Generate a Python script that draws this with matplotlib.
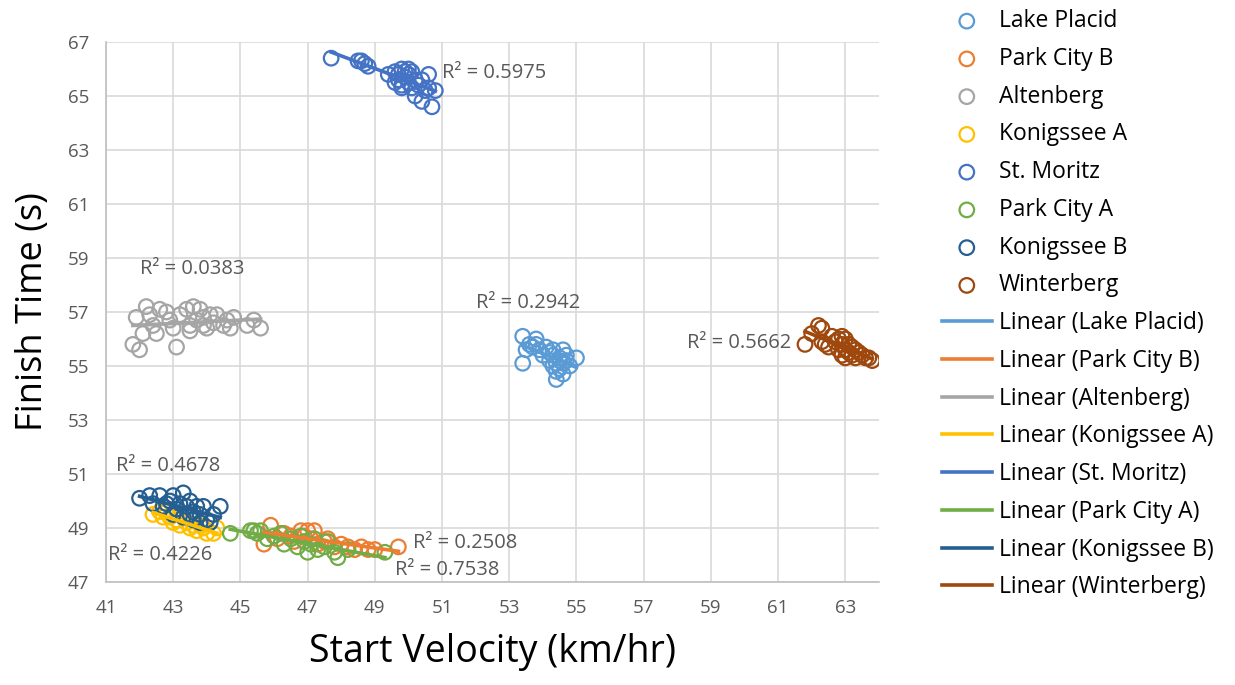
import numpy as np
import matplotlib
matplotlib.use("Agg")
import matplotlib.pyplot as plt

plt.rcParams['font.family'] = ['Open Sans', 'DejaVu Sans']

tracks = ['Lake Placid', 'Park City B', 'Altenberg', 'Konigssee A',
          'St. Moritz', 'Park City A', 'Konigssee B', 'Winterberg']
colors = ['#5B9BD5', '#ED7D31', '#A5A5A5', '#FFC000',
          '#4472C4', '#70AD47', '#255E91', '#9E480E']

# start velocity (km/hr) and finish time (s) per track
lake_placid_v = [53.4, 53.4, 53.5, 53.6, 53.7, 53.8, 53.8, 53.9, 54.0, 54.1, 54.2, 54.2, 54.3, 54.3,
                 54.4, 54.4, 54.5, 54.5, 54.6, 54.6, 54.6, 54.7, 54.7, 54.8, 55.0, 54.3, 54.5, 54.4]
lake_placid_t = [56.1, 55.1, 55.6, 55.8, 55.7, 56.0, 55.8, 55.6, 55.4, 55.7, 55.5, 55.2, 55.0, 55.4,
                 54.8, 54.5, 55.3, 54.9, 55.6, 55.1, 54.7, 55.4, 55.2, 55.0, 55.3, 55.6, 55.2, 55.1]

park_b_v = [45.7, 45.9, 46.1, 46.3, 46.6, 46.8, 46.9, 47.0, 47.1, 47.2, 47.3, 47.5, 47.8, 48.0,
            48.2, 48.4, 48.6, 48.8, 49.0, 49.7, 46.5, 47.6]
park_b_t = [48.4, 49.1, 48.6, 48.8, 48.5, 48.9, 48.7, 48.9, 48.6, 48.9, 48.4, 48.5, 48.3, 48.4,
            48.3, 48.2, 48.3, 48.2, 48.2, 48.3, 48.7, 48.6]

altenberg_v = [41.8, 42.0, 41.9, 42.1, 42.2, 42.3, 42.4, 42.5, 42.6, 42.8, 42.9, 43.0, 43.1, 43.2,
               43.4, 43.5, 43.6, 43.7, 43.8, 43.9, 44.0, 44.1, 44.2, 44.3, 44.5, 44.6, 44.7, 44.8,
               45.2, 45.4, 45.6, 43.5, 43.9]
altenberg_t = [55.8, 55.6, 56.8, 56.2, 57.2, 56.9, 56.5, 56.2, 57.1, 57.0, 56.7, 56.4, 55.7, 56.9,
               57.1, 56.5, 57.2, 56.7, 57.1, 56.8, 56.4, 56.9, 56.6, 56.9, 56.5, 56.7, 56.4, 56.8,
               56.5, 56.7, 56.4, 56.3, 56.5]

konig_a_v = [42.4, 42.6, 42.7, 42.9, 43.0, 43.1, 43.2, 43.4, 43.5, 43.6, 43.7, 43.8, 43.9, 44.0,
             44.2, 44.3, 43.3, 42.8]
konig_a_t = [49.5, 49.6, 49.4, 49.4, 49.2, 49.3, 49.1, 49.2, 49.0, 49.1, 48.9, 49.1, 49.0, 48.8,
             48.8, 49.0, 49.4, 49.6]

moritz_v = [47.7, 48.5, 48.7, 48.8, 48.6, 49.4, 49.6, 49.7, 49.8, 49.8, 49.9, 50.0, 50.0, 50.1,
            50.2, 50.2, 50.3, 50.4, 50.5, 50.6, 50.6, 50.7, 50.8, 49.7, 49.9, 50.0, 50.1, 49.6,
            50.4, 49.8]
moritz_t = [66.4, 66.3, 66.2, 66.1, 66.3, 65.8, 65.9, 65.6, 66.0, 65.4, 65.7, 65.8, 65.5, 65.3,
            65.6, 65.0, 65.4, 64.8, 65.2, 65.8, 65.3, 64.6, 65.2, 65.8, 65.9, 66.0, 65.9, 65.5,
            65.6, 65.3]

park_a_v = [44.7, 45.3, 45.5, 45.6, 45.8, 46.0, 46.2, 46.3, 46.5, 46.7, 46.8, 47.0, 47.1, 47.3,
            47.5, 47.6, 47.8, 47.9, 48.2, 49.3, 46.9, 45.4, 47.2]
park_a_t = [48.8, 48.9, 48.8, 48.9, 48.6, 48.7, 48.8, 48.4, 48.6, 48.3, 48.7, 48.1, 48.4, 48.2,
            48.3, 48.5, 48.1, 47.9, 48.2, 48.1, 48.5, 48.9, 48.6]

konig_b_v = [42.0, 42.3, 42.4, 42.6, 42.7, 42.9, 43.0, 43.1, 43.2, 43.3, 43.4, 43.5, 43.6, 43.6,
             43.7, 43.8, 43.9, 44.0, 44.1, 44.2, 44.4, 43.0, 43.3, 43.8, 42.8, 43.5]
konig_b_t = [50.1, 50.2, 49.9, 50.2, 49.8, 50.0, 50.2, 49.7, 49.9, 50.3, 49.8, 50.0, 49.6, 49.3,
             49.8, 49.5, 49.8, 49.3, 49.2, 49.5, 49.8, 49.5, 49.4, 49.2, 49.9, 49.5]

winter_v = [61.8, 62.0, 62.2, 62.3, 62.3, 62.5, 62.6, 62.7, 62.8, 62.8, 62.9, 62.9, 63.0, 63.0,
            63.1, 63.1, 63.2, 63.2, 63.3, 63.3, 63.4, 63.5, 63.6, 63.7, 63.8, 62.4, 63.0, 62.9]
winter_t = [55.8, 56.2, 56.5, 56.4, 55.9, 55.7, 56.1, 55.9, 55.6, 56.0, 55.4, 55.8, 55.6, 56.0,
            55.5, 55.8, 55.4, 55.7, 55.3, 55.6, 55.5, 55.4, 55.3, 55.3, 55.2, 55.8, 55.3, 56.1]

velocities = [lake_placid_v, park_b_v, altenberg_v, konig_a_v, moritz_v, park_a_v, konig_b_v, winter_v]
times = [lake_placid_t, park_b_t, altenberg_t, konig_a_t, moritz_t, park_a_t, konig_b_t, winter_t]

# R² labels as printed on the chart, with their anchor (x, y, ha)
r2_text = ['0.2942', '0.2508', '0.0383', '0.4226', '0.5975', '0.7538', '0.4678', '0.5662']
r2_pos = [(52.0, 57.35, 'left'), (50.15, 48.45, 'left'), (42.0, 58.6, 'left'), (41.05, 48.0, 'left'),
          (51.0, 65.85, 'left'), (49.6, 47.45, 'left'), (41.3, 51.3, 'left'), (61.4, 55.85, 'right')]

fig = plt.figure(figsize=(12.35, 6.85), dpi=100)
ax = fig.add_axes([0.0858, 0.1504, 0.6259, 0.7883])

scat_handles = []
line_handles = []
for name, c, v, t in zip(tracks, colors, velocities, times):
    v = np.array(v)
    t = np.array(t)
    h = ax.scatter(v, t, s=110, facecolors='none', edgecolors=c, linewidths=1.6,
                   label=name, zorder=3)
    scat_handles.append(h)
for name, c, v, t in zip(tracks, colors, velocities, times):
    v = np.array(v)
    t = np.array(t)
    k, b = np.polyfit(v, t, 1)
    xs = np.array([v.min(), v.max()])
    l, = ax.plot(xs, k * xs + b, color=c, lw=2.6, zorder=4, label='Linear (' + name + ')')
    line_handles.append(l)

for txt, (x, y, ha) in zip(r2_text, r2_pos):
    ax.text(x, y, 'R² = ' + txt, fontsize=14.5, color='#595959', ha=ha, va='center', zorder=5)

ax.set_xlim(41, 64)
ax.set_ylim(47, 67)
ax.set_xticks(np.arange(41, 64, 2))
ax.set_yticks(np.arange(47, 68, 2))
ax.grid(True, color='#D9D9D9', lw=1.2)
ax.set_axisbelow(True)
for s in ['top', 'right']:
    ax.spines[s].set_visible(False)
for s in ['left', 'bottom']:
    ax.spines[s].set_color('#BFBFBF')
    ax.spines[s].set_linewidth(1.2)
ax.tick_params(length=0, labelsize=13.5, colors='#595959', pad=12)
ax.set_xlabel('Start Velocity (km/hr)', fontsize=27, labelpad=12)
ax.set_ylabel('Finish Time (s)', fontsize=26, labelpad=12)

fig.legend(scat_handles + line_handles, [h.get_label() for h in scat_handles + line_handles],
           loc='upper left', bbox_to_anchor=(0.755, 1.0), frameon=False, fontsize=16.5,
           labelspacing=0.6, handlelength=2.2, handletextpad=0.3, borderaxespad=0)

fig.savefig('out.png', dpi=100)
